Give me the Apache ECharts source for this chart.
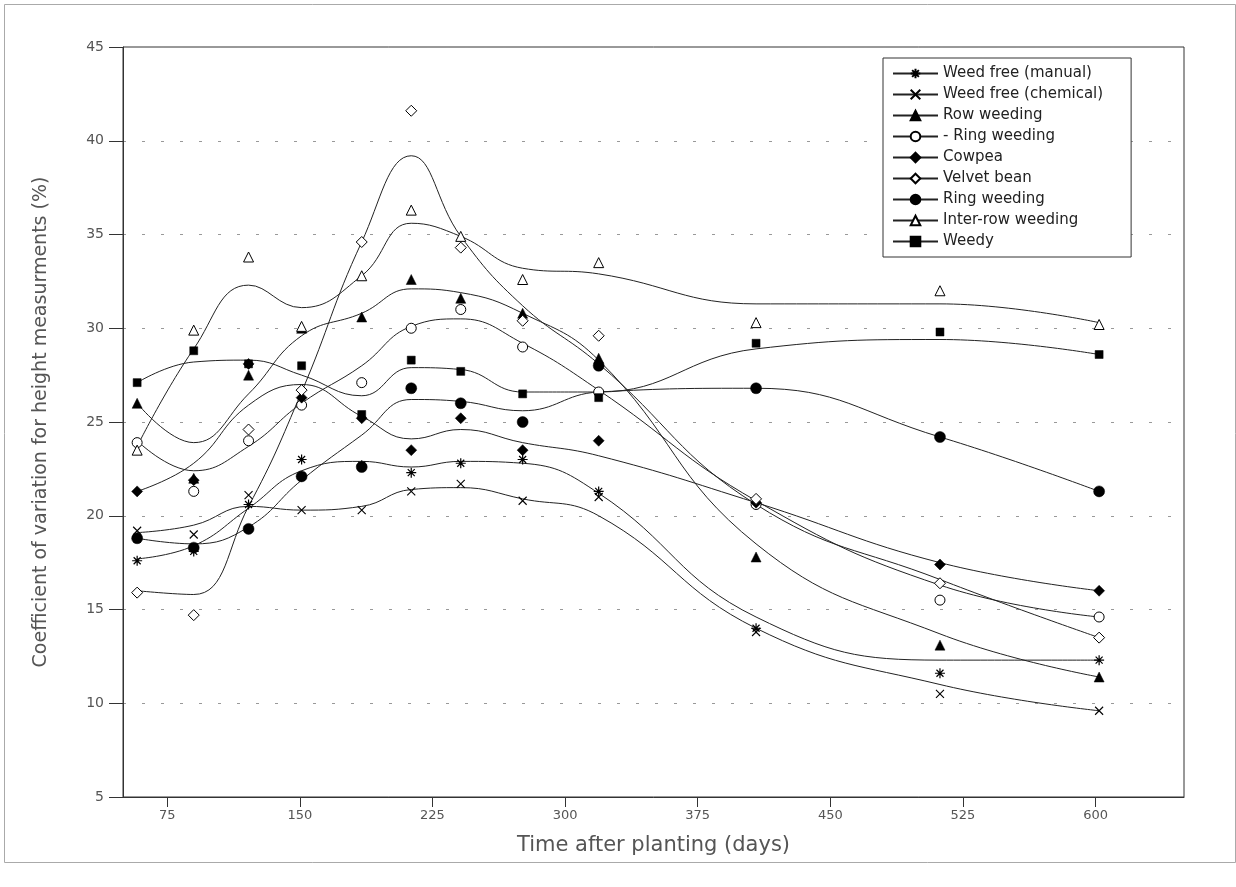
<!DOCTYPE html>
<html>
<head>
<meta charset="utf-8">
<script src="https://cdn.jsdelivr.net/npm/echarts@6/dist/echarts.min.js"></script>
<style>
  html, body { margin: 0; padding: 0; background: #fff; }
  #chart { width: 1236px; height: 887px; }
</style>
</head>
<body>
<div id="chart"></div>
<script>
// ---- Data ----
const days = [58, 90, 121, 151, 185, 213, 241, 276, 319, 408, 512, 602];
const xTickLabels = [75, 150, 225, 300, 375, 450, 525, 600];

const seriesNames = [
  'Weed free (manual)', 'Weed free (chemical)', 'Row weeding', '- Ring weeding',
  'Cowpea', 'Velvet bean', 'Ring weeding', 'Inter-row weeding', 'Weedy'
];

// observed points
const weedFreeManual   = [17.6, 18.1, 20.6, 23.0, 22.7, 22.3, 22.8, 23.0, 21.3, 14.0, 11.6, 12.3];
const weedFreeChemical = [19.2, 19.0, 21.1, 20.3, 20.3, 21.3, 21.7, 20.8, 21.0, 13.8, 10.5, 9.6];
const rowWeeding       = [26.0, 22.0, 27.5, 30.0, 30.6, 32.6, 31.6, 30.8, 28.4, 17.8, 13.1, 11.4];
const ringWeedingOpen  = [23.9, 21.3, 24.0, 25.9, 27.1, 30.0, 31.0, 29.0, 26.6, 20.6, 15.5, 14.6];
const cowpea           = [21.3, 21.9, 28.1, 26.3, 25.2, 23.5, 25.2, 23.5, 24.0, 20.7, 17.4, 16.0];
const velvetBean       = [15.9, 14.7, 24.6, 26.7, 34.6, 41.6, 34.3, 30.4, 29.6, 20.9, 16.4, 13.5];
const ringWeeding      = [18.8, 18.3, 19.3, 22.1, 22.6, 26.8, 26.0, 25.0, 28.0, 26.8, 24.2, 21.3];
const interRowWeeding  = [23.5, 29.9, 33.8, 30.1, 32.8, 36.3, 34.9, 32.6, 33.5, 30.3, 32.0, 30.2];
const weedy            = [27.1, 28.8, 28.1, 28.0, 25.4, 28.3, 27.7, 26.5, 26.3, 29.2, 29.8, 28.6];

// fitted curve values at the same days
const weedFreeManualFit   = [17.7, 18.4, 20.4, 22.4, 22.9, 22.6, 22.9, 22.8, 21.2, 14.6, 12.3, 12.3];
const weedFreeChemicalFit = [19.1, 19.5, 20.5, 20.3, 20.5, 21.4, 21.5, 20.9, 20.0, 14.0, 11.0, 9.6];
const rowWeedingFit       = [26.0, 23.9, 26.5, 29.6, 30.8, 32.1, 31.9, 30.8, 28.3, 18.5, 13.7, 11.4];
const ringWeedingOpenFit  = [24.0, 22.4, 23.7, 26.0, 28.0, 30.1, 30.5, 29.2, 26.7, 20.8, 16.3, 14.6];
const cowpeaFit           = [21.3, 22.8, 25.9, 27.0, 25.3, 24.1, 24.6, 23.9, 23.2, 20.7, 17.5, 16.0];
const velvetBeanFit       = [16.0, 15.8, 20.5, 26.6, 34.6, 39.2, 34.9, 31.2, 28.1, 20.6, 16.6, 13.5];
const ringWeedingFit      = [18.8, 18.5, 19.4, 21.9, 24.3, 26.2, 26.1, 25.6, 26.6, 26.8, 24.2, 21.3];
const interRowWeedingFit  = [23.7, 28.9, 32.3, 31.1, 32.8, 35.6, 34.9, 33.2, 32.9, 31.3, 31.3, 30.3];
const weedyFit            = [27.1, 28.2, 28.3, 27.5, 26.4, 27.9, 27.8, 26.6, 26.6, 28.9, 29.4, 28.6];

// ---- Styles ----
const ASTERISK = 'path://M5,0L5,10M0,5L10,5M1.5,1.5L8.5,8.5M8.5,1.5L1.5,8.5';
const CROSS = 'path://M0,0L10,10M10,0L0,10';
const styles = [
  { symbol: ASTERISK, size: 10, fill: '#000', bw: 1.2 },
  { symbol: CROSS, size: 8, fill: '#000', bw: 1.1 },
  { symbol: 'triangle', size: 10, fill: '#000', bw: 0.5 },
  { symbol: 'circle', size: 10, fill: '#fff', bw: 1 },
  { symbol: 'diamond', size: 11, fill: '#000', bw: 0.5 },
  { symbol: 'diamond', size: 11, fill: '#fff', bw: 1 },
  { symbol: 'circle', size: 11, fill: '#000', bw: 0.5 },
  { symbol: 'triangle', size: 10, fill: '#fff', bw: 1 },
  { symbol: 'rect', size: 8, fill: '#000', bw: 0.5 }
];
const observed = [weedFreeManual, weedFreeChemical, rowWeeding, ringWeedingOpen, cowpea, velvetBean, ringWeeding, interRowWeeding, weedy];
const fitted = [weedFreeManualFit, weedFreeChemicalFit, rowWeedingFit, ringWeedingOpenFit, cowpeaFit, velvetBeanFit, ringWeedingFit, interRowWeedingFit, weedyFit];

const pairs = arr => arr.map((v, i) => [days[i], v]);

const series = [];
seriesNames.forEach((name, k) => {
  const st = styles[k];
  series.push({
    name: name, type: 'line', smooth: 0.45, showSymbol: false,
    symbol: st.symbol, symbolSize: st.size,
    data: pairs(fitted[k]),
    color: '#000',
    lineStyle: { color: '#222', width: 1 },
    itemStyle: { color: st.fill, borderColor: '#000', borderWidth: st.bw },
    emphasis: { disabled: true }, z: 2
  });
});
seriesNames.forEach((name, k) => {
  const st = styles[k];
  series.push({
    name: name, type: 'scatter',
    symbol: st.symbol, symbolSize: st.size,
    data: pairs(observed[k]),
    itemStyle: { color: st.fill, borderColor: '#000', borderWidth: st.bw, opacity: 1 },
    emphasis: { disabled: true }, z: 3
  });
});

const FONT = 'DejaVu Sans';
const chart = echarts.init(document.getElementById('chart'), null, { renderer: 'canvas' });
chart.setOption({
  backgroundColor: '#fff',
  animation: false,
  graphic: [{
    type: 'rect', left: 2, top: 2, shape: { width: 1231, height: 858 },
    style: { fill: 'none', stroke: '#aaa', lineWidth: 1 }, silent: true, z: -10
  }],
  grid: {
    left: 123, right: 52, top: 47, bottom: 90,
    show: true, borderColor: '#333', borderWidth: 1, backgroundColor: 'transparent'
  },
  legend: {
    orient: 'vertical', left: 883, top: 58,
    data: seriesNames,
    itemWidth: 45, itemHeight: 12, itemGap: 6,
    padding: [8, 28, 8, 9],
    borderColor: '#333', borderWidth: 1, backgroundColor: '#fff',
    textStyle: { fontFamily: FONT, fontSize: 15, color: '#222' },
    selectedMode: false
  },
  xAxis: {
    type: 'value', min: 50, max: 650,
    name: 'Time after planting (days)', nameLocation: 'middle', nameGap: 38,
    nameTextStyle: { fontFamily: FONT, fontSize: 21, color: '#555' },
    axisLine: { show: true, lineStyle: { color: '#333', width: 1 } },
    axisTick: { show: true, inside: false, length: 10, customValues: xTickLabels, lineStyle: { color: '#333' } },
    axisLabel: { customValues: xTickLabels, margin: 12, fontFamily: FONT, fontSize: 13, color: '#555' },
    splitLine: { show: false }
  },
  yAxis: {
    type: 'value', min: 5, max: 45, interval: 5,
    name: 'Coefficient of variation for height measurments (%)', nameLocation: 'middle', nameGap: 72,
    nameRotate: 90,
    nameTextStyle: { fontFamily: FONT, fontSize: 19, color: '#555' },
    axisLine: { show: true, lineStyle: { color: '#333', width: 1 } },
    axisTick: { show: true, inside: false, length: 14, lineStyle: { color: '#333' } },
    axisLabel: { margin: 19, fontFamily: FONT, fontSize: 14, color: '#555' },
    splitLine: { show: true, lineStyle: { color: '#999', width: 1.2, type: [3, 16] } }
  },
  series: series
});
</script>
</body>
</html>
